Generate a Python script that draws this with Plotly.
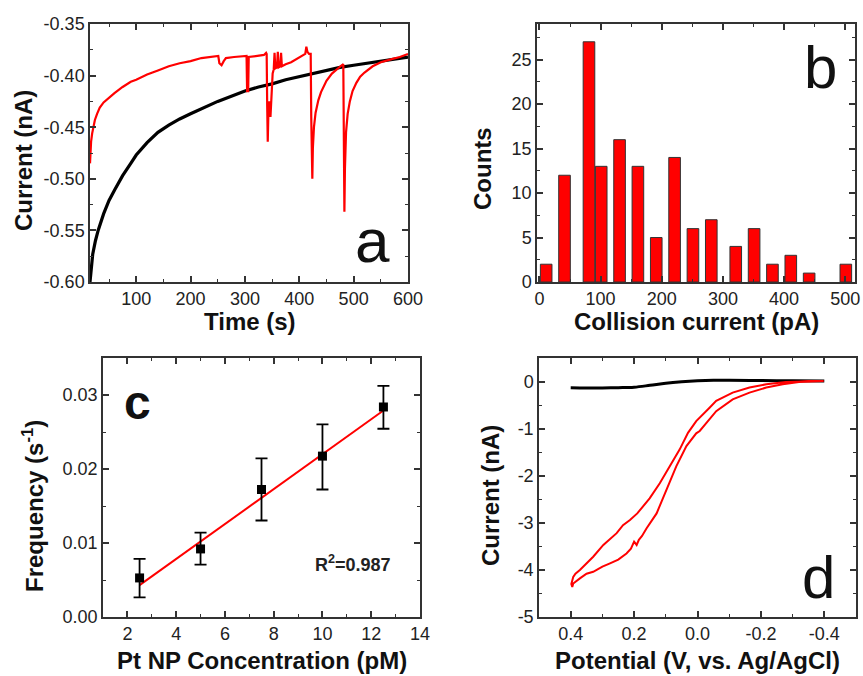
import plotly.graph_objects as go

W, H = 863, 676

# ---------------- Panel a: current vs time ----------------
time_red = [15, 16, 17, 19, 21, 24, 28, 33, 40, 50, 60, 75, 90, 100, 120, 140, 160, 180, 200, 220,
            245, 251, 253, 257, 261, 265, 280, 300, 303, 304, 306, 307, 320, 335, 339, 340, 341, 342,
            343, 345, 347, 349, 351, 353, 354.5, 356, 359, 360.5, 362, 365, 366.5, 368, 375, 385, 395,
            405, 411, 413, 415, 418, 421, 422, 423, 424, 425, 427, 430, 435, 440, 445, 450, 460, 470,
            478, 481, 482, 483, 484, 486, 489, 493, 498, 505, 512, 520, 535, 550, 570, 585, 600]
current_red = [-0.485, -0.472, -0.464, -0.456, -0.450, -0.443, -0.437, -0.431, -0.426, -0.421, -0.417,
               -0.411, -0.406, -0.404, -0.399, -0.395, -0.391, -0.388, -0.386, -0.383,
               -0.381, -0.381, -0.388, -0.390, -0.386, -0.383, -0.382, -0.381, -0.381, -0.415, -0.415,
               -0.382, -0.381, -0.380, -0.378, -0.379, -0.430, -0.464,
               -0.440, -0.425, -0.440, -0.420, -0.398, -0.394, -0.378, -0.393, -0.392, -0.377, -0.392,
               -0.391, -0.378, -0.391, -0.389, -0.387, -0.384,
               -0.381, -0.379, -0.372, -0.377, -0.379, -0.379, -0.440, -0.485, -0.500, -0.470, -0.450,
               -0.436, -0.424, -0.416, -0.410, -0.405, -0.398, -0.393,
               -0.390, -0.389, -0.460, -0.532, -0.490, -0.455, -0.437, -0.425, -0.415, -0.407, -0.401,
               -0.397, -0.391, -0.387, -0.384, -0.382, -0.379]
time_black = [15, 17, 20, 25, 30, 40, 50, 60, 75, 90, 100, 120, 140, 160, 180, 200, 225, 250, 275, 300,
              325, 350, 375, 400, 425, 450, 475, 500, 525, 550, 575, 600]
current_black = [-0.600, -0.585, -0.573, -0.560, -0.550, -0.534, -0.521, -0.511, -0.497, -0.485, -0.477,
                 -0.465, -0.455, -0.448, -0.442, -0.437, -0.431, -0.425, -0.420, -0.415, -0.411, -0.408,
                 -0.404, -0.401, -0.398, -0.395, -0.392, -0.390, -0.388, -0.386, -0.384, -0.382]
a_ytickvals = [-0.60, -0.55, -0.50, -0.45, -0.40, -0.35]
a_yticktext = ["-0.60", "-0.55", "-0.50", "-0.45", "-0.40", "-0.35"]

# ---------------- Panel b: histogram ----------------
bin_centers = [11, 41, 81, 101, 131, 161, 191, 221, 251, 281, 321, 351, 381, 411, 441, 501]
counts = [2, 12, 27, 13, 16, 13, 5, 14, 6, 7, 4, 6, 2, 3, 1, 2]

# ---------------- Panel c: frequency vs concentration ----------------
conc = [2.5, 5, 7.5, 10, 12.5]
freq = [0.00528, 0.0092, 0.01723, 0.02174, 0.02838]
freq_err_plus = [0.00257, 0.00221, 0.00420, 0.00429, 0.00284]
freq_err_minus = [0.00262, 0.00212, 0.00419, 0.00451, 0.00294]
fit_x = [2.5, 12.5]
fit_y = [0.0043, 0.0279]

# ---------------- Panel d: CV ----------------
pot_red = [-0.398, -0.32, -0.269, -0.217, -0.164, -0.111, -0.059, -0.038, -0.007, 0.004, 0.035, 0.067,
           0.098, 0.129, 0.161, 0.175, 0.185, 0.192, 0.200, 0.210, 0.224, 0.250, 0.276, 0.300, 0.329,
           0.350, 0.371, 0.392, 0.395, 0.398, 0.392, 0.385, 0.371, 0.350, 0.329, 0.297, 0.270, 0.255,
           0.235, 0.213, 0.190, 0.172, 0.151, 0.119, 0.088, 0.056, 0.030, 0.004, -0.038, -0.059, -0.111,
           -0.164, -0.217, -0.279, -0.395]
cur_cv_red = [0.01, -0.01, -0.058, -0.128, -0.235, -0.378, -0.63, -0.80, -1.05, -1.10, -1.37, -1.80,
              -2.30, -2.80, -3.12, -3.28, -3.36, -3.47, -3.40, -3.55, -3.65, -3.78, -3.86, -3.93, -4.04,
              -4.08, -4.18, -4.29, -4.36, -4.30, -4.15, -4.08, -4.00, -3.86, -3.72, -3.47, -3.30, -3.22,
              -3.05, -2.94, -2.80, -2.65, -2.48, -2.16, -1.80, -1.44, -1.09, -0.84, -0.555, -0.41, -0.235,
              -0.128, -0.058, -0.01, 0.013]
pot_black = [0.40, 0.35, 0.30, 0.25, 0.20, 0.15, 0.10, 0.05, 0.00, -0.05, -0.10, -0.20, -0.30, -0.40]
cur_cv_black = [-0.13, -0.135, -0.135, -0.13, -0.12, -0.08, -0.035, -0.005, 0.015, 0.025, 0.025, 0.02,
                0.015, 0.01]
d_xtickvals = [0.4, 0.2, 0.0, -0.2, -0.4]
d_xticktext = ["0.4", "0.2", "0.0", "-0.2", "-0.4"]
d_ytickvals = [0, -1, -2, -3, -4, -5]
d_yticktext = ["0", "-1", "-2", "-3", "-4", "-5"]

FONT = "Liberation Sans, Arial, sans-serif"
AXC = "#333333"


def dx(l, r):
    return [l / W, r / W]


def dy(t, b):
    return [1 - b / H, 1 - t / H]


def px(x):
    return x / W


def py(y):
    return 1 - y / H


def ax(**kw):
    d = dict(showline=True, linecolor=AXC, linewidth=1.5, mirror="allticks", ticks="inside",
             ticklen=6, tickwidth=1.5, tickcolor=AXC, showgrid=False, zeroline=False,
             automargin=False,
             tickfont=dict(family=FONT, size=18, color="#222"),
             minor=dict(ticks="inside", ticklen=3.5, tickwidth=1.2, tickcolor=AXC, showgrid=False))
    minor = kw.pop("minor", {})
    d["minor"].update(minor)
    d.update(kw)
    return d


fig = go.Figure()

# a
fig.add_trace(go.Scatter(x=time_black, y=current_black, mode="lines",
                         line=dict(color="black", width=3.2), xaxis="x", yaxis="y"))
fig.add_trace(go.Scatter(x=time_red, y=current_red, mode="lines",
                         line=dict(color="#ff0000", width=2.2), xaxis="x", yaxis="y"))
# b
fig.add_trace(go.Bar(x=bin_centers, y=counts, width=19,
                     marker=dict(color="#ff0000", line=dict(color="#333", width=1)),
                     xaxis="x2", yaxis="y2"))
# c
fig.add_trace(go.Scatter(x=fit_x, y=fit_y, mode="lines", line=dict(color="#ff0000", width=2),
                         xaxis="x3", yaxis="y3"))
fig.add_trace(go.Scatter(x=conc, y=freq, mode="markers",
                         marker=dict(symbol="square", size=9, color="black"),
                         error_y=dict(type="data", array=freq_err_plus, arrayminus=freq_err_minus,
                                      color="black", thickness=1.8, width=6),
                         xaxis="x3", yaxis="y3"))
# d
fig.add_trace(go.Scatter(x=pot_black, y=cur_cv_black, mode="lines",
                         line=dict(color="black", width=3, shape="spline"), xaxis="x4", yaxis="y4"))
fig.add_trace(go.Scatter(x=pot_red, y=cur_cv_red, mode="lines",
                         line=dict(color="#ff0000", width=2), xaxis="x4", yaxis="y4"))

fig.update_layout(
    width=W, height=H, margin=dict(l=0, r=0, t=0, b=0, autoexpand=False),
    paper_bgcolor="white", plot_bgcolor="white", showlegend=False,
    xaxis=ax(domain=dx(90, 408), range=[15, 600], dtick=100, tick0=0, anchor="y",
             minor=dict(dtick=50, tick0=0)),
    yaxis=ax(domain=dy(24, 282), range=[-0.6, -0.35], tickmode="array", tickvals=a_ytickvals,
             ticktext=a_yticktext, anchor="x", minor=dict(tickmode="linear", dtick=0.025, tick0=-0.6)),
    xaxis2=ax(domain=dx(537, 855), range=[-4, 516], dtick=100, tick0=0, anchor="y2",
              minor=dict(dtick=50, tick0=0)),
    yaxis2=ax(domain=dy(24, 282), range=[0, 29], dtick=5, tick0=0, anchor="x2",
              minor=dict(dtick=2.5, tick0=0)),
    xaxis3=ax(domain=dx(103, 420), range=[1, 14], dtick=2, tick0=0, anchor="y3",
              minor=dict(dtick=1, tick0=0)),
    yaxis3=ax(domain=dy(358, 617), range=[0, 0.035], dtick=0.01, tick0=0, tickformat=".2f",
              anchor="x3", minor=dict(dtick=0.005, tick0=0)),
    xaxis4=ax(domain=dx(539, 856), range=[0.5, -0.5], tickmode="array", tickvals=d_xtickvals,
              ticktext=d_xticktext, anchor="y4", minor=dict(tickmode="linear", dtick=0.1, tick0=0)),
    yaxis4=ax(domain=dy(358, 617), range=[-5, 0.5], tickmode="array", tickvals=d_ytickvals,
              ticktext=d_yticktext, anchor="x4", minor=dict(tickmode="linear", dtick=0.5, tick0=0)),
)

TF = dict(family=FONT, size=24, color="#111")
annots = [
    # axis titles
    dict(text="<b>Current (nA)</b>", x=px(24), y=py(161), textangle=-90, font=TF),
    dict(text="<b>Time (s)</b>", x=px(250), y=py(321), font=TF),
    dict(text="<b>Counts</b>", x=px(483), y=py(168), textangle=-90, font=TF),
    dict(text="<b>Collision current (pA)</b>", x=px(696), y=py(321), font=TF),
    dict(text="<b>Frequency (s<sup>-1</sup>)</b>", x=px(33), y=py(506), textangle=-90, font=TF),
    dict(text="<b>Pt NP Concentration (pM)</b>", x=px(262), y=py(660), font=TF),
    dict(text="<b>Current (nA)</b>", x=px(490), y=py(495), textangle=-90, font=TF),
    dict(text="<b>Potential (V, vs. Ag/AgCl)</b>", x=px(697), y=py(660), font=TF),
    # panel letters
    dict(text="a", x=px(372), y=py(240), font=dict(family=FONT, size=62, color="#111")),
    dict(text="b", x=px(820), y=py(67), font=dict(family=FONT, size=60, color="#111")),
    dict(text="<b>c</b>", x=px(137), y=py(402), font=dict(family=FONT, size=48, color="#111")),
    dict(text="d", x=px(818), y=py(577), font=dict(family=FONT, size=60, color="#111")),
    # R^2
    dict(text="<b>R<sup>2</sup>=0.987</b>", x=px(353), y=py(563),
         font=dict(family=FONT, size=18, color="#222")),
]
for a in annots:
    a.update(xref="paper", yref="paper", showarrow=False, xanchor="center", yanchor="middle")
fig.update_layout(annotations=annots)

fig.write_html("out.html")
